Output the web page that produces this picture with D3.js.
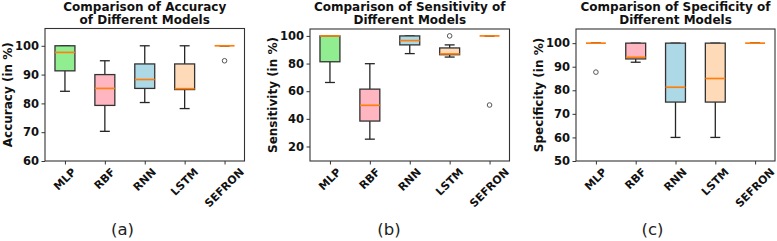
<!DOCTYPE html>
<html>
<head>
<meta charset="utf-8">
<script src="https://cdn.jsdelivr.net/npm/d3@7"></script>
<style>
  html, body { margin: 0; padding: 0; background: #fff; }
  svg { display: block; font-family: "DejaVu Sans", sans-serif; }
</style>
</head>
<body>
<svg id="chart" width="777" height="241"></svg>
<script>
// ---------- DATA ----------
const categories = ["MLP", "RBF", "RNN", "LSTM", "SEFRON"];
const boxColors = ["#90ee90", "#ffb6c1", "#add8e6", "#ffdab9", "#d8bfd8"];

// Accuracy (%)
const accuracyLow    = [84.2, 70.3, 80.3, 78.2, 100];
const accuracyQ1     = [91.3, 79.3, 85.2, 84.8, 100];
const accuracyMedian = [97.7, 85.2, 88.3, 85.1, 100];
const accuracyQ3     = [100, 90.0, 93.7, 93.7, 100];
const accuracyHigh   = [100, 94.8, 100, 100, 100];
const accuracyOutliers = [[], [], [], [], [94.8]];

// Sensitivity (%)
const sensitivityLow    = [66.3, 25.3, 87.2, 84.7, 100];
const sensitivityQ1     = [81.3, 38.4, 93.5, 86.4, 100];
const sensitivityMedian = [100, 49.8, 96.6, 87.0, 100];
const sensitivityQ3     = [100, 61.5, 100, 91.3, 100];
const sensitivityHigh   = [100, 79.9, 100, 93.5, 100];
const sensitivityOutliers = [[], [], [], [100], [50]];

// Specificity (%)
const specificityLow    = [100, 91.9, 60, 60, 100];
const specificityQ1     = [100, 93.3, 75, 75, 100];
const specificityMedian = [100, 94.0, 81.3, 85, 100];
const specificityQ3     = [100, 100, 100, 100, 100];
const specificityHigh   = [100, 100, 100, 100, 100];
const specificityOutliers = [[87.7], [], [], [], []];

const accuracyTicks = [60, 70, 80, 90, 100];
const sensitivityTicks = [20, 40, 60, 80, 100];
const specificityTicks = [50, 60, 70, 80, 90, 100];

const titles = [
  ["Comparison of Accuracy", "of Different Models"],
  ["Comparison of Sensitivity of", "Different Models"],
  ["Comparison of Specificity of", "Different Models"]
];
const yLabels = ["Accuracy (in %)", "Sensitivity (in %)", "Specificity (in %)"];
const panelLabels = ["(a)", "(b)", "(c)"];

// ---------- LAYOUT ----------
const panels = [
  { left: 45,  right: 244.5, top: 28.5, bottom: 161, domain: [60, 106],  ticks: accuracyTicks,
    low: accuracyLow, q1: accuracyQ1, med: accuracyMedian, q3: accuracyQ3, high: accuracyHigh, out: accuracyOutliers, labelX: 122.5 },
  { left: 310, right: 509.5, top: 29,   bottom: 161, domain: [9.5, 105],  ticks: sensitivityTicks,
    low: sensitivityLow, q1: sensitivityQ1, med: sensitivityMedian, q3: sensitivityQ3, high: sensitivityHigh, out: sensitivityOutliers, labelX: 389 },
  { left: 576, right: 775,   top: 29,   bottom: 161, domain: [50, 106],   ticks: specificityTicks,
    low: specificityLow, q1: specificityQ1, med: specificityMedian, q3: specificityQ3, high: specificityHigh, out: specificityOutliers, labelX: 652.5 }
];

const svg = d3.select("#chart");
svg.append("rect").attr("width", 777).attr("height", 241).attr("fill", "#fff");

const ink = "#262626";
const textInk = "#111";

panels.forEach((p, pi) => {
  const x = d3.scaleLinear().domain([0.5, 5.5]).range([p.left, p.right]);
  const y = d3.scaleLinear().domain(p.domain).range([p.bottom, p.top]);
  const g = svg.append("g");
  const bw = (x(1.25) - x(0.75));   // box width 0.5
  const cw = bw / 2;                // cap width

  categories.forEach((c, i) => {
    const cx = x(i + 1);
    g.append("line").attr("x1", cx).attr("x2", cx).attr("y1", y(p.q1[i])).attr("y2", y(p.low[i]))
      .attr("stroke", ink).attr("stroke-width", 1.3);
    g.append("line").attr("x1", cx).attr("x2", cx).attr("y1", y(p.q3[i])).attr("y2", y(p.high[i]))
      .attr("stroke", ink).attr("stroke-width", 1.3);
    [p.low[i], p.high[i]].forEach(v => {
      g.append("line").attr("x1", cx - cw / 2).attr("x2", cx + cw / 2).attr("y1", y(v)).attr("y2", y(v))
        .attr("stroke", ink).attr("stroke-width", 1.3);
    });
    g.append("rect").attr("x", cx - bw / 2).attr("width", bw)
      .attr("y", y(p.q3[i])).attr("height", Math.max(0, y(p.q1[i]) - y(p.q3[i])))
      .attr("fill", boxColors[i]).attr("stroke", "#333").attr("stroke-width", 1.3);
    g.append("line").attr("x1", cx - bw / 2).attr("x2", cx + bw / 2)
      .attr("y1", y(p.med[i])).attr("y2", y(p.med[i]))
      .attr("stroke", "#ff7f0e").attr("stroke-width", 1.7);
    p.out[i].forEach(v => {
      g.append("circle").attr("cx", cx).attr("cy", y(v)).attr("r", 2.3)
        .attr("fill", "none").attr("stroke", "#555").attr("stroke-width", 1);
    });
  });

  // frame
  g.append("rect").attr("x", p.left).attr("y", p.top)
    .attr("width", p.right - p.left).attr("height", p.bottom - p.top)
    .attr("fill", "none").attr("stroke", "#333").attr("stroke-width", 1.1);

  // y axis
  const yAxis = d3.axisLeft(y).tickValues(p.ticks).tickSize(3.5).tickPadding(2.5);
  const ya = g.append("g").attr("transform", `translate(${p.left},0)`).call(yAxis);
  ya.select(".domain").remove();
  ya.selectAll(".tick line").attr("stroke", "#333");
  ya.selectAll(".tick text").attr("font-family", "DejaVu Sans").attr("font-weight", "bold")
    .attr("font-size", 11.5).attr("fill", textInk);

  // x axis ticks
  const xAxis = d3.axisBottom(x).tickValues([1, 2, 3, 4, 5]).tickSize(3.5).tickFormat("");
  const xa = g.append("g").attr("transform", `translate(0,${p.bottom})`).call(xAxis);
  xa.select(".domain").remove();
  xa.selectAll(".tick line").attr("stroke", "#333");

  // rotated x tick labels
  categories.forEach((c, i) => {
    const fs = 11;
    const t = g.append("text").text(c)
      .attr("font-family", "DejaVu Sans").attr("font-weight", "bold").attr("font-size", fs)
      .attr("fill", textInk).attr("text-anchor", "middle").attr("dominant-baseline", "central");
    const w = t.node().getComputedTextLength();
    const bh = (w + fs * 0.95) * Math.SQRT1_2;
    const cx = x(i + 1), cy = p.bottom + 5.5 + bh / 2;
    t.attr("transform", `translate(${cx},${cy}) rotate(-45)`);
  });

  // y label
  g.append("text").text(yLabels[pi])
    .attr("font-family", "DejaVu Sans").attr("font-weight", "bold").attr("font-size", 12)
    .attr("fill", textInk).attr("text-anchor", "middle").attr("dominant-baseline", "central")
    .attr("transform", `translate(${p.left - 37.5},${(p.top + p.bottom) / 2}) rotate(-90)`);

  // title
  const tcx = (p.left + p.right) / 2;
  titles[pi].forEach((line, li) => {
    g.append("text").text(line)
      .attr("x", tcx).attr("y", 11 + li * 13)
      .attr("font-family", "DejaVu Sans").attr("font-weight", "bold").attr("font-size", 12)
      .attr("fill", textInk).attr("text-anchor", "middle");
  });

  // panel label
  g.append("text").text(panelLabels[pi])
    .attr("x", p.labelX).attr("y", 235)
    .attr("font-family", "DejaVu Sans").attr("font-size", 16.5)
    .attr("fill", "#222").attr("text-anchor", "middle");
});
</script>
</body>
</html>
